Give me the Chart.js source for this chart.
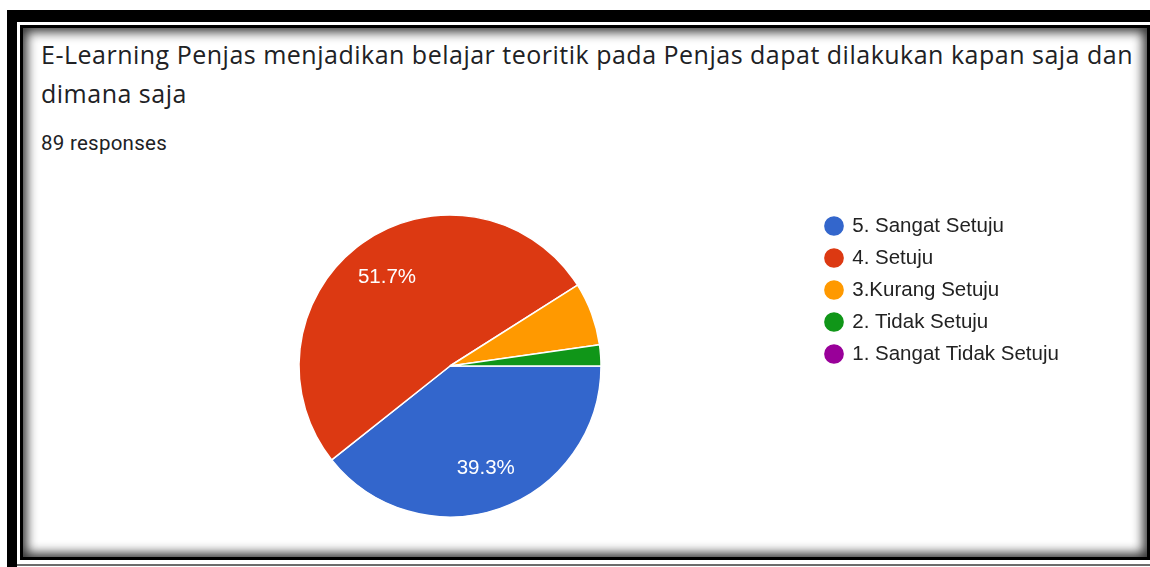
<!DOCTYPE html>
<html>
<head>
<meta charset="utf-8">
<script src="https://cdn.jsdelivr.net/npm/chart.js@4.4.1/dist/chart.umd.min.js"></script>
<style>
  html, body { margin:0; padding:0; background:#fff; width:1150px; height:567px; overflow:hidden; position:relative; }
  #outer { position:absolute; left:7px; top:10px; width:1300px; height:700px; border-left:10px solid #000; border-top:12px solid #000; }
  #bottomline { position:absolute; left:17px; top:564px; width:1140px; height:2px; background:#6b6b6b; }
  #inner { position:absolute; left:20px; top:25px; width:1124px; height:529px; border:3px solid #000;
           box-shadow: inset 0 0 11px 4px rgba(0,0,0,0.8); background:#fff; }
  #title { position:absolute; left:41px; top:35px; font-family:"Open Sans", sans-serif; font-size:25px; line-height:39px;
           color:#202124; white-space:nowrap; z-index:3; }
  #title span { display:block; }
  #sub { position:absolute; left:41px; top:131px; font-family:Roboto, sans-serif; font-size:20.5px; line-height:24px;
         color:#202124; white-space:nowrap; z-index:3; }
  #wrap { position:absolute; left:0; top:0; width:1150px; height:567px; z-index:4; }
</style>
</head>
<body>
<div id="outer"></div>
<div id="bottomline"></div>
<div id="inner"></div>
<div id="title"><span id="t1"></span><span id="t2"></span></div>
<div id="sub"><span id="s1"></span></div>
<div id="wrap"><canvas id="c"></canvas></div>
<script>
// ---- data ----
const titleLines = ['E-Learning Penjas menjadikan belajar teoritik pada Penjas dapat dilakukan kapan saja dan', 'dimana saja'];
const subtitleText = '89 responses';
const categories = ['5. Sangat Setuju', '4. Setuju', '3.Kurang Setuju', '2. Tidak Setuju', '1. Sangat Tidak Setuju'];
const responses = [35, 46, 6, 2, 0];
const sliceColors = ['#3366cc', '#dc3912', '#ff9900', '#109618', '#990099'];

// ---- text ----
const t1 = document.getElementById('t1'), t2 = document.getElementById('t2'), s1 = document.getElementById('s1');
t1.textContent = titleLines[0];
t2.textContent = titleLines[1];
s1.textContent = subtitleText;
function fitSpacing(el, target) {
  el.style.display = 'inline-block';
  const w = el.getBoundingClientRect().width;
  el.style.display = 'block';
  return (target - w) / el.textContent.length;
}
const ls = fitSpacing(t1, 1092);
t1.style.letterSpacing = ls + 'px';
t2.style.letterSpacing = ls + 'px';
const ls2 = fitSpacing(s1, 126);
s1.style.letterSpacing = ls2 + 'px';

// ---- percent label plugin ----
const pctPlugin = {
  id: 'pct',
  afterDatasetsDraw(chart) {
    const ctx = chart.ctx;
    const ds = chart.data.datasets[0];
    const meta = chart.getDatasetMeta(0);
    const total = ds.data.reduce((a, b) => a + b, 0);
    ctx.save();
    ctx.fillStyle = '#ffffff';
    ctx.font = '20.5px "Liberation Sans", Arial, sans-serif';
    ctx.textAlign = 'center';
    ctx.textBaseline = 'middle';
    meta.data.forEach((arc, i) => {
      const v = ds.data[i];
      if (!v || v / total < 0.1) return;
      const p = arc.getProps(['x', 'y', 'startAngle', 'endAngle', 'outerRadius'], true);
      const mid = (p.startAngle + p.endAngle) / 2;
      const r = p.outerRadius * 0.72;
      ctx.fillText((v / total * 100).toFixed(1) + '%', p.x + Math.cos(mid) * r, p.y + Math.sin(mid) * r);
    });
    ctx.restore();
  }
};

const opts = {
  responsive: true,
  maintainAspectRatio: false,
  animation: false,
  events: [],
  rotation: 90,
  layout: { padding: { left: 85.5, right: 90, top: 204.25, bottom: 39.25 } },
  plugins: {
    tooltip: { enabled: false },
    title: { display: false },
    legend: {
      position: 'right',
      align: 'start',
      labels: {
        usePointStyle: true,
        pointStyle: 'circle',
        boxWidth: 16,
        boxHeight: 15,
        padding: 11.5,
        color: '#222222',
        font: { family: '"Liberation Sans", Arial, sans-serif', size: 20.5, lineHeight: 1 }
      }
    }
  }
};

const chart = new Chart(document.getElementById('c'), {
  type: 'pie',
  data: {
    labels: categories,
    datasets: [{
      data: responses,
      backgroundColor: sliceColors,
      borderColor: '#ffffff',
      borderWidth: 1.5,
      radius: 151
    }]
  },
  options: opts,
  plugins: [pctPlugin]
});
const dx = chart.legend.left - 814.5;
opts.layout.padding.right += dx;
chart.update('none');
</script>
</body>
</html>
